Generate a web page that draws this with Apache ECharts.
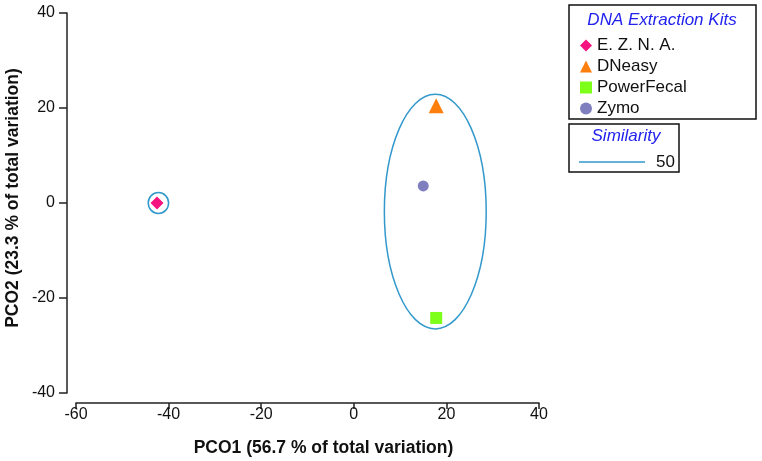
<!DOCTYPE html>
<html>
<head>
<meta charset="utf-8">
<script src="https://cdn.jsdelivr.net/npm/echarts@6/dist/echarts.min.js"></script>
<style>html,body{margin:0;padding:0;background:#fff;}#c{width:762px;height:461px;}</style>
</head>
<body>
<div id="c"></div>
<script>
var kitNames = ['E. Z. N. A.', 'DNeasy', 'PowerFecal', 'Zymo'];
var kitPoints = [[-42.5, 0], [17.8, 20.5], [17.8, -24.2], [15, 3.6]];
var kitSymbols = ['diamond', 'triangle', 'rect', 'circle'];
var kitColors = ['#f5137f', '#ff7f0e', '#7dff1a', '#7f7fbf'];
var kitSizes = [13, 15, 12, 11];
// ellipse: [centerX, centerY, radiusX, radiusY]
var similarityEllipses = [[17.6, -1.8, 11.0, 24.7], [-42.2, 0, 2.2, 2.2]];
var similarityLevel = '50';
var xTicks = {min: -60, max: 40, interval: 20};
var yTicks = {min: -40, max: 40, interval: 20};

var chart = echarts.init(document.getElementById('c'), null, {renderer: 'canvas'});
var FONT = "'Liberation Sans'";
var series = kitNames.map(function (n, i) {
  return {
    name: n, type: 'scatter', data: [kitPoints[i]],
    symbol: kitSymbols[i], symbolSize: kitSizes[i],
    itemStyle: {color: kitColors[i], opacity: 1}, z: 5
  };
});
series.push({
  name: similarityLevel, type: 'custom',
  data: similarityEllipses,
  encode: {x: 0, y: 1},
  renderItem: function (params, api) {
    var c = api.coord([api.value(0), api.value(1)]);
    var s = api.size([api.value(2), api.value(3)]);
    return {type: 'ellipse', shape: {cx: c[0], cy: c[1], rx: s[0], ry: s[1]},
      style: {fill: 'none', stroke: '#3399cc', lineWidth: 1.5}};
  },
  z: 3
});
chart.setOption({
  backgroundColor: '#fff',
  animation: false,
  grid: {left: 76, right: 223, top: 13, bottom: 68, containLabel: false, outerBoundsMode: 'none'},
  xAxis: {
    type: 'value', min: xTicks.min, max: xTicks.max, interval: xTicks.interval,
    offset: 10,
    axisLine: {show: true, onZero: false, lineStyle: {color: '#222', width: 1.5}},
    axisTick: {show: true, length: 6, lineStyle: {color: '#222', width: 1.5}},
    axisLabel: {color: '#111', fontSize: 16, fontFamily: FONT, margin: 4},
    splitLine: {show: false},
    name: 'PCO1 (56.7 % of total variation)', nameLocation: 'middle', nameGap: 36, nameMoveOverlap: false,
    nameTextStyle: {color: '#111', fontSize: 17.5, fontWeight: 'bold', fontFamily: FONT, padding: [0, 0, 0, 32]}
  },
  yAxis: {
    type: 'value', min: yTicks.min, max: yTicks.max, interval: yTicks.interval,
    offset: 9,
    axisLine: {show: true, onZero: false, lineStyle: {color: '#222', width: 1.5}},
    axisTick: {show: true, length: 8, lineStyle: {color: '#222', width: 1.5}},
    axisLabel: {color: '#111', fontSize: 16, fontFamily: FONT, margin: 12},
    splitLine: {show: false},
    name: 'PCO2 (23.3 % of total variation)', nameLocation: 'middle', nameGap: 45, nameMoveOverlap: false,
    nameTextStyle: {color: '#111', fontSize: 17.5, fontWeight: 'bold', fontFamily: FONT, padding: [0, 0, 0, 10]}
  },
  legend: {
    data: kitNames, orient: 'vertical', left: 575, top: 31,
    itemWidth: 12, itemHeight: 12, itemGap: 2,
    textStyle: {color: '#111', fontSize: 17, fontFamily: FONT, lineHeight: 19}
  },
  graphic: [
    {type: 'rect', shape: {x: 569, y: 5, width: 187, height: 114}, style: {fill: 'none', stroke: '#111', lineWidth: 1.5}},
    {type: 'text', x: 662, y: 20, style: {text: 'DNA Extraction Kits', fill: '#2222ee', font: "italic 17px 'Liberation Sans'", textAlign: 'center', textVerticalAlign: 'middle'}},
    {type: 'rect', shape: {x: 569, y: 124, width: 110, height: 48}, style: {fill: 'none', stroke: '#111', lineWidth: 1.5}},
    {type: 'text', x: 626, y: 136, style: {text: 'Similarity', fill: '#2222ee', font: "italic 17px 'Liberation Sans'", textAlign: 'center', textVerticalAlign: 'middle'}},
    {type: 'line', shape: {x1: 579, y1: 162, x2: 645, y2: 162}, style: {stroke: '#3399cc', lineWidth: 1.5}},
    {type: 'text', x: 656, y: 162, style: {text: similarityLevel, fill: '#111', font: "17px 'Liberation Sans'", textVerticalAlign: 'middle'}}
  ],
  series: series
});
</script>
</body>
</html>
